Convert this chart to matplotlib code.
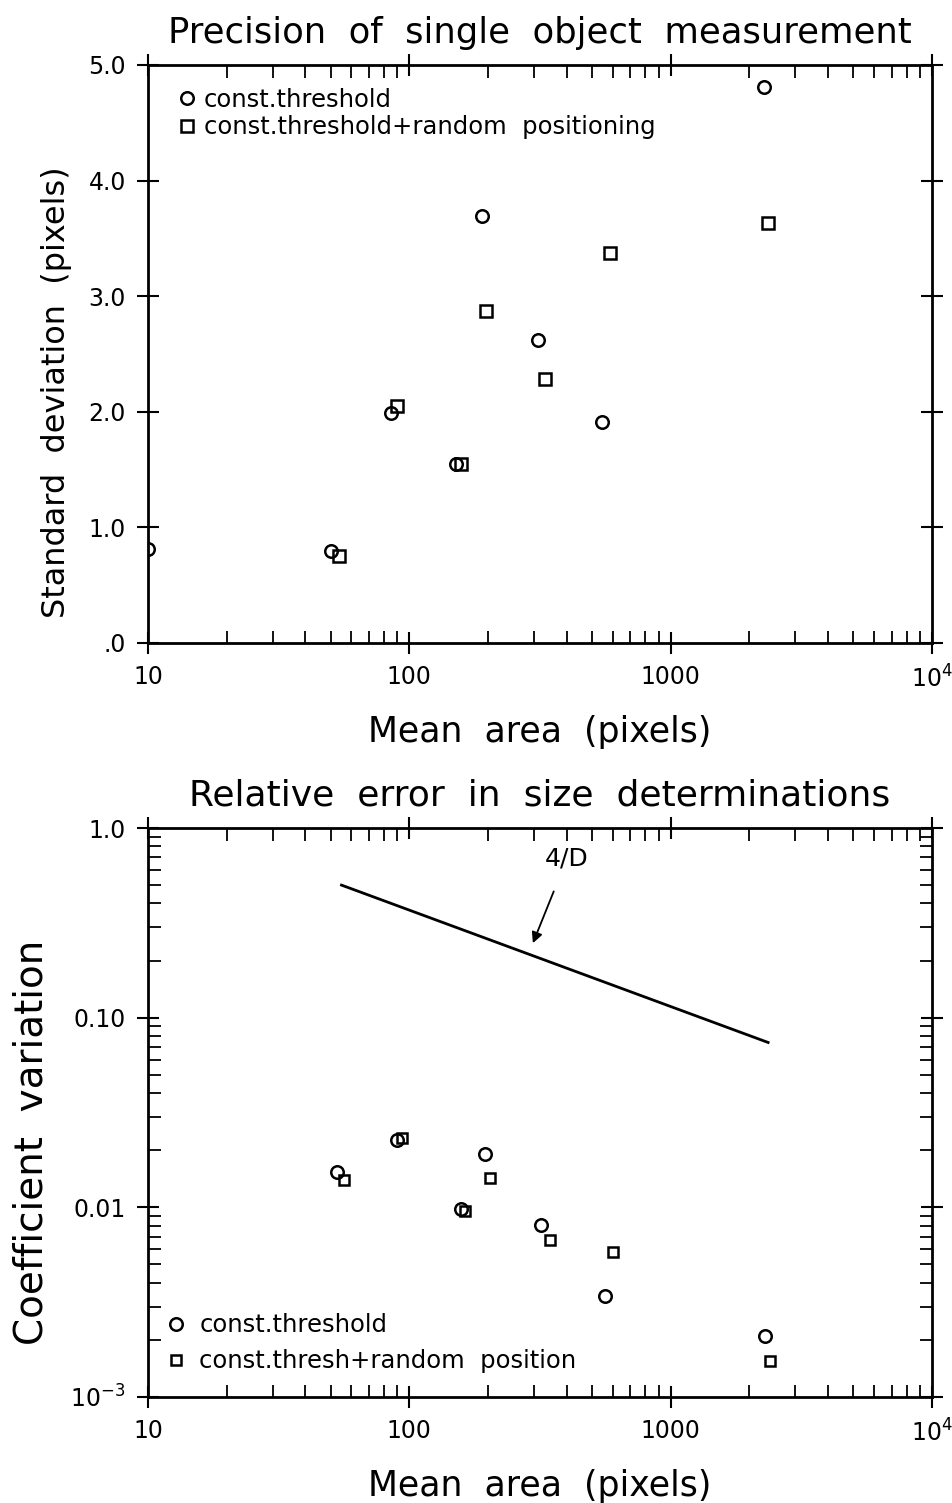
import matplotlib.pyplot as plt
import numpy as np
from matplotlib.ticker import FixedLocator, FixedFormatter, LogLocator, NullFormatter, NullLocator

# top panel: standard deviation vs mean area
area_ct = [10, 50, 85, 151, 190, 311, 546, 2275]
sd_ct = [0.81, 0.80, 1.99, 1.55, 3.69, 2.62, 1.91, 4.81]
area_rp = [54, 90, 158, 197, 330, 586, 2360]
sd_rp = [0.75, 2.05, 1.55, 2.87, 2.28, 3.37, 3.63]

# bottom panel: coefficient of variation
cv_area_ct = [53, 90, 158, 195, 319, 560, 2300]
cv_ct = [0.0154, 0.0226, 0.0098, 0.0191, 0.0081, 0.0034, 0.0021]
cv_area_rp = [56, 94, 163, 204, 345, 600, 2400]
cv_rp = [0.0140, 0.0232, 0.0096, 0.0143, 0.0067, 0.0058, 0.00155]
line_area = [55, 2360]
line_cv = [0.50, 0.074]

plt.rcParams['font.family'] = 'DejaVu Sans'
fig = plt.figure(figsize=(9.53, 15.03), dpi=100)
ax1 = fig.add_axes([148/953, 1 - 643/1503, 784/953, 578/1503])
ax2 = fig.add_axes([148/953, 1 - 1397/1503, 784/953, 569/1503])

mk = dict(linestyle='none', mfc='none', mec='black', mew=1.8, color='black')

ax1.plot(area_ct, sd_ct, marker='o', ms=9, label='const.threshold', **mk)
ax1.plot(area_rp, sd_rp, marker='s', ms=8, label='const.threshold+random  positioning', **mk)
ax1.set_xscale('log')
ax1.set_xlim(10, 1e4)
ax1.set_ylim(0, 5)
ax1.yaxis.set_major_locator(FixedLocator([0, 1, 2, 3, 4, 5]))
ax1.yaxis.set_major_formatter(FixedFormatter(['.0', '1.0', '2.0', '3.0', '4.0', '5.0']))
ax1.yaxis.set_minor_locator(NullLocator())
ax1.set_title('Precision  of  single  object  measurement', fontsize=25.5, pad=16)
ax1.set_ylabel('Standard  deviation  (pixels)', fontsize=23)
ax1.yaxis.set_label_coords(-0.097, 0.434)
ax1.set_xlabel('Mean  area  (pixels)', fontsize=25, labelpad=16)
ax1.legend(loc='upper left', frameon=False, fontsize=17.5, handletextpad=0.05,
           borderaxespad=0.6, labelspacing=0.15, handlelength=1.3,
           bbox_to_anchor=(-0.002, 1.003))

ax2.plot(line_area, line_cv, color='black', lw=2)
ax2.plot(cv_area_ct, cv_ct, marker='o', ms=9, label='const.threshold', **mk)
ax2.plot(cv_area_rp, cv_rp, marker='s', ms=7, label='const.thresh+random  position', **mk)
ax2.set_xscale('log')
ax2.set_yscale('log')
ax2.set_xlim(10, 1e4)
ax2.set_ylim(1e-3, 1.0)
ax2.yaxis.set_major_locator(FixedLocator([1e-3, 1e-2, 1e-1, 1.0]))
ax2.yaxis.set_major_formatter(FixedFormatter(['$10^{-3}$', '0.01', '0.10', '1.0']))
ax2.yaxis.set_minor_locator(LogLocator(base=10, subs=np.arange(2, 10)))
ax2.yaxis.set_minor_formatter(NullFormatter())
ax2.set_title('Relative  error  in  size  determinations', fontsize=26, pad=16)
ax2.set_ylabel('Coefficient  variation', fontsize=28)
ax2.yaxis.set_label_coords(-0.124, 0.448)
ax2.set_xlabel('Mean  area  (pixels)', fontsize=25, labelpad=16)
ax2.annotate('4/D', xy=(297, 0.247), xytext=(401, 0.69), fontsize=18,
             ha='center', va='center',
             arrowprops=dict(arrowstyle='-|>', color='black', lw=1.3,
                             mutation_scale=16, shrinkA=14, shrinkB=0))
ax2.legend(loc='lower left', frameon=False, fontsize=17.5, handletextpad=0.3,
           borderaxespad=0.5, labelspacing=0.5, handlelength=1.3,
           bbox_to_anchor=(-0.012, 0.003))

for ax in (ax1, ax2):
    ax.xaxis.set_major_locator(FixedLocator([10, 100, 1000, 10000]))
    ax.xaxis.set_major_formatter(FixedFormatter(['10', '100', '1000', '$10^4$']))
    ax.xaxis.set_minor_locator(LogLocator(base=10, subs=np.arange(2, 10)))
    ax.xaxis.set_minor_formatter(NullFormatter())
    ax.tick_params(which='major', direction='inout', length=16, width=1.5,
                   labelsize=17, top=True, right=True, pad=8)
    ax.tick_params(which='minor', direction='in', length=9, width=1.3,
                   top=True, right=True)
    for s in ax.spines.values():
        s.set_linewidth(2)

fig.savefig('out.png', dpi=100)
